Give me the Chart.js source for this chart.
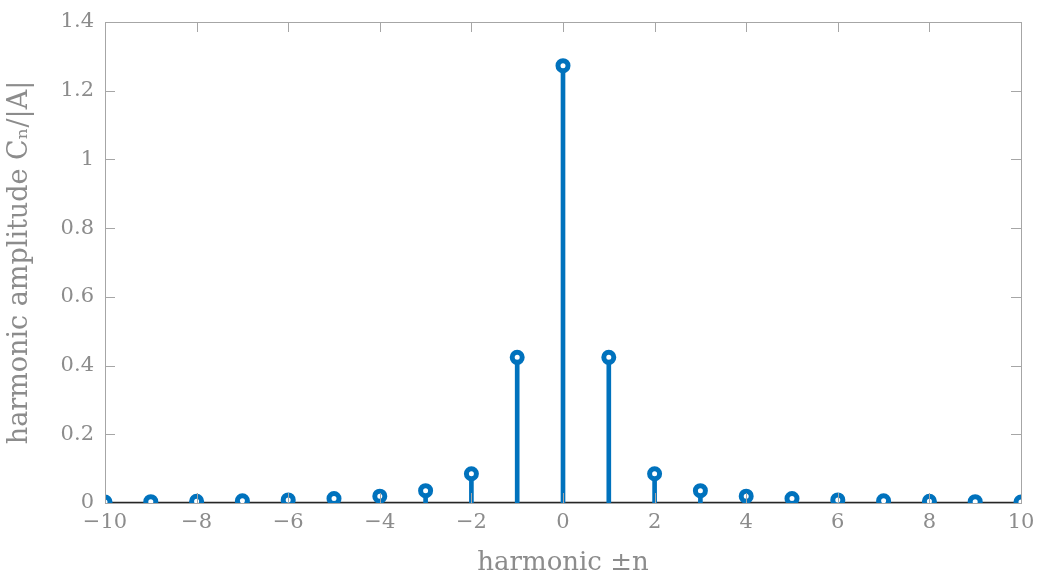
<!DOCTYPE html>
<html>
<head>
<meta charset="utf-8">
<script src="https://cdn.jsdelivr.net/npm/chart.js@4.4.1/dist/chart.umd.min.js"></script>
<style>
  html, body { margin: 0; padding: 0; background: #fff; }
  #wrap { width: 1039px; height: 583px; position: relative; }
</style>
</head>
<body>
<div id="wrap"><canvas id="chart"></canvas></div>
<script>
// data
const harmonics = [-10, -9, -8, -7, -6, -5, -4, -3, -2, -1, 0, 1, 2, 3, 4, 5, 6, 7, 8, 9, 10];
const amplitudes = [0.003, 0.004, 0.005, 0.0065, 0.009, 0.013, 0.02, 0.036, 0.085, 0.424, 1.273,
  0.424, 0.085, 0.036, 0.02, 0.013, 0.009, 0.0065, 0.005, 0.004, 0.003];
const xTicks = [-10, -8, -6, -4, -2, 0, 2, 4, 6, 8, 10];
const yTicks = [0, 0.2, 0.4, 0.6, 0.8, 1, 1.2, 1.4];

const stemColor = "#0072BD";
const axisGray = "#a6a6a6";
const labelGray = "#8c8c8c";
const serif = "'DejaVu Serif', 'Liberation Serif', serif";

const points = harmonics.map((n, i) => ({ x: n, y: amplitudes[i] }));

// matlab style box with inward ticks
const boxTicks = {
  id: "boxTicks",
  afterDatasetsDraw(chart) {
    const { ctx, chartArea: a, scales } = chart;
    const len = 10;
    ctx.save();
    ctx.strokeStyle = axisGray;
    ctx.lineWidth = 1;
    ctx.beginPath();
    scales.x.ticks.forEach((t) => {
      const px = Math.round(scales.x.getPixelForValue(t.value)) + 0.5;
      ctx.moveTo(px, a.bottom);
      ctx.lineTo(px, a.bottom - len);
      ctx.moveTo(px, a.top);
      ctx.lineTo(px, a.top + len);
    });
    scales.y.ticks.forEach((t) => {
      const py = Math.round(scales.y.getPixelForValue(t.value)) + 0.5;
      ctx.moveTo(a.left, py);
      ctx.lineTo(a.left + len, py);
      ctx.moveTo(a.right, py);
      ctx.lineTo(a.right - len, py);
    });
    ctx.stroke();
    ctx.strokeRect(Math.round(a.left) + 0.5, Math.round(a.top) + 0.5,
      Math.round(a.right - a.left), Math.round(a.bottom - a.top));
    ctx.restore();
  },
};

const fmt = (v) => String(Math.round(v * 10) / 10).replace("-", "\u2212");

new Chart(document.getElementById("chart"), {
  data: {
    datasets: [
      {
        type: "line",
        data: [{ x: -10, y: 0 }, { x: 10, y: 0 }],
        borderColor: "#262626",
        borderWidth: 2.5,
        pointRadius: 0,
        order: 3,
      },
      {
        type: "bar",
        data: points,
        backgroundColor: stemColor,
        barThickness: 4,
        order: 2,
      },
      {
        type: "scatter",
        data: points,
        pointRadius: 5,
        pointBorderWidth: 5,
        pointBorderColor: stemColor,
        pointBackgroundColor: "#fff",
        order: 1,
      },
    ],
  },
  options: {
    responsive: true,
    maintainAspectRatio: false,
    animation: false,
    layout: { padding: { left: 0, top: 22, right: 18, bottom: 0 } },
    plugins: { legend: { display: false }, tooltip: { enabled: false } },
    scales: {
      x: {
        type: "linear",
        offset: false,
        min: -10,
        max: 10,
        afterBuildTicks: (s) => { s.ticks = xTicks.map((v) => ({ value: v })); },
        afterFit: (s) => { s.height = 80; s.paddingLeft = 0; s.paddingRight = 0; },
        grid: { display: false, drawTicks: false, offset: false },
        border: { display: false },
        ticks: {
          padding: 7,
          color: labelGray,
          font: { family: serif, size: 21 },
          callback: (v) => fmt(v),
        },
        title: {
          display: true,
          text: "harmonic \u00b1n",
          color: labelGray,
          font: { family: serif, size: 26 },
          padding: { top: 8 },
        },
      },
      y: {
        type: "linear",
        min: 0,
        max: 1.4,
        afterBuildTicks: (s) => { s.ticks = yTicks.map((v) => ({ value: v })); },
        afterFit: (s) => { s.width = 105; s.paddingTop = 0; s.paddingBottom = 0; },
        grid: { display: false, drawTicks: false },
        border: { display: false },
        ticks: {
          padding: 11,
          color: labelGray,
          font: { family: serif, size: 21 },
          callback: (v) => fmt(v),
        },
        title: {
          display: true,
          text: "harmonic amplitude C\u2099/|A|",
          color: labelGray,
          font: { family: serif, size: 27 },
          padding: { bottom: 0 },
        },
      },
    },
  },
  plugins: [boxTicks],
});
</script>
</body>
</html>
